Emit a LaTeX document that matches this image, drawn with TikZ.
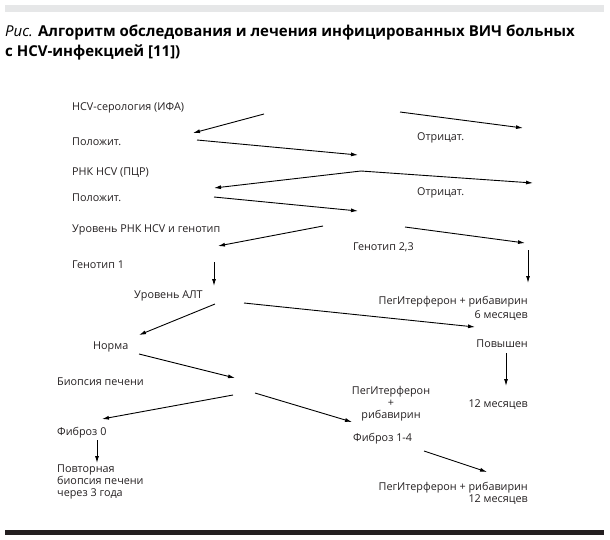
\documentclass[tikz,border=0pt]{standalone}
\usepackage{fontspec}
\setmainfont{Open Sans}
\usetikzlibrary{arrows.meta}
\definecolor{BarGrey}{HTML}{E6E7E8}
\definecolor{BarDark}{HTML}{231F20}
\tikzset{
  txt/.style={inner sep=0pt,font=\fontsize{10.8}{12}\selectfont,text=BarDark},
  arr/.style={line width=0.9pt,-{Latex[length=7pt,width=4pt]}}
}

\begin{document}
\begin{tikzpicture}[x=1pt,y=-1pt]
   \useasboundingbox (0,0) rectangle (610,539);
   \fill[BarGrey] (5,5) rectangle (604,12);
   \fill[BarDark] (5,530) rectangle (604,535);

   \node[anchor=north west,inner sep=0pt,align=left,
    font=\fontsize{15}{20}\selectfont] (title) at (5,25)
    {{\itshape Рис.} \textbf{Алгоритм обследования и лечения инфицированных ВИЧ больных}\\
     \textbf{с HCV-инфекцией [11])}};

   % left column
   \node[txt,anchor=west] (sero) at (72,108) {HCV-серология (ИФА)};
   \node[txt,anchor=west] (pos1) at (72,142) {Положит.};
   \node[txt,anchor=west] (pcr) at (72,173) {РНК HCV (ПЦР)};
   \node[txt,anchor=west] (pos2) at (72,198) {Положит.};
   \node[txt,anchor=west] (level) at (72,230) {Уровень РНК HCV и генотип};
   \node[txt,anchor=west] (gt1) at (72,265) {Генотип 1};
   \node[txt,anchor=west] (alt) at (134,296) {Уровень АЛТ};
   \node[txt,anchor=west] (norm) at (93,347) {Норма};
   \node[txt,anchor=west] (biop) at (57,382) {Биопсия печени};
   \node[txt,anchor=west] (fib0) at (57,433) {Фиброз 0};
   \node[txt,anchor=north west,align=left] (rep) at (57,465)
    {Повторная\\биопсия печени\\через 3 года};

   % right column
   \node[txt,anchor=west] (neg1) at (417,138) {Отрицат.};
   \node[txt,anchor=west] (neg2) at (417,193) {Отрицат.};
   \node[txt,anchor=west] (gt23) at (353,247) {Генотип 2,3};
   \node[txt,anchor=north east,align=right] (peg6) at (528,296)
    {ПегИтерферон + рибавирин\\[2pt]6 месяцев};
   \node[txt,anchor=east] (high) at (528,344) {Повышен};
   \node[txt,anchor=north,align=center] (pegr) at (391,386)
    {ПегИтерферон\\+\\рибавирин};
   \node[txt,anchor=east] (m12) at (528,405) {12 месяцев};
   \node[txt,anchor=west] (fib14) at (353,439) {Фиброз 1-4};
   \node[txt,anchor=north east,align=right] (peg12) at (528,482)
    {ПегИтерферон + рибавирин\\12 месяцев};

   % arrow ends
   \coordinate (s1) at (264,114);  \coordinate (e1) at (193,133);
   \coordinate (s2) at (400,112);  \coordinate (e2) at (523,128);
   \coordinate (s3) at (197,140);  \coordinate (e3) at (358,155);
   \coordinate (apex) at (361,171);
   \coordinate (e4) at (214,188);  \coordinate (e5) at (533,183);
   \coordinate (s6) at (214,197);  \coordinate (e6) at (358,211);
   \coordinate (s7) at (323,226);  \coordinate (e7) at (218,246);
   \coordinate (s8) at (405,227);  \coordinate (e8) at (525,243);
   \coordinate (s9) at (214,262);  \coordinate (e9) at (214,286);
   \coordinate (s10) at (528,250); \coordinate (e10) at (528,283);
   \coordinate (s11) at (215,304); \coordinate (e11) at (139,335);
   \coordinate (s12) at (244,303); \coordinate (e12) at (475,327);
   \coordinate (s13) at (506,353); \coordinate (e13) at (506,386);
   \coordinate (s14) at (139,354); \coordinate (e14) at (235,378);
   \coordinate (s15) at (233,395); \coordinate (e15) at (102,419);
   \coordinate (s16) at (255,393); \coordinate (e16) at (352,422);
   \coordinate (s17) at (97,440);  \coordinate (e17) at (97,463);
   \coordinate (s18) at (424,451); \coordinate (e18) at (487,472);

   \draw[arr] (s1) -- (e1);
   \draw[arr] (s2) -- (e2);
   \draw[arr] (s3) -- (e3);
   \draw[arr] (apex) -- (e4);
   \draw[arr] (apex) -- (e5);
   \draw[arr] (s6) -- (e6);
   \draw[arr] (s7) -- (e7);
   \draw[arr] (s8) -- (e8);
   \draw[arr] (s9) -- (e9);
   \draw[arr] (s10) -- (e10);
   \draw[arr] (s11) -- (e11);
   \draw[arr] (s12) -- (e12);
   \draw[arr] (s13) -- (e13);
   \draw[arr] (s14) -- (e14);
   \draw[arr] (s15) -- (e15);
   \draw[arr] (s16) -- (e16);
   \draw[arr] (s17) -- (e17);
   \draw[arr] (s18) -- (e18);
\end{tikzpicture}
\end{document}
